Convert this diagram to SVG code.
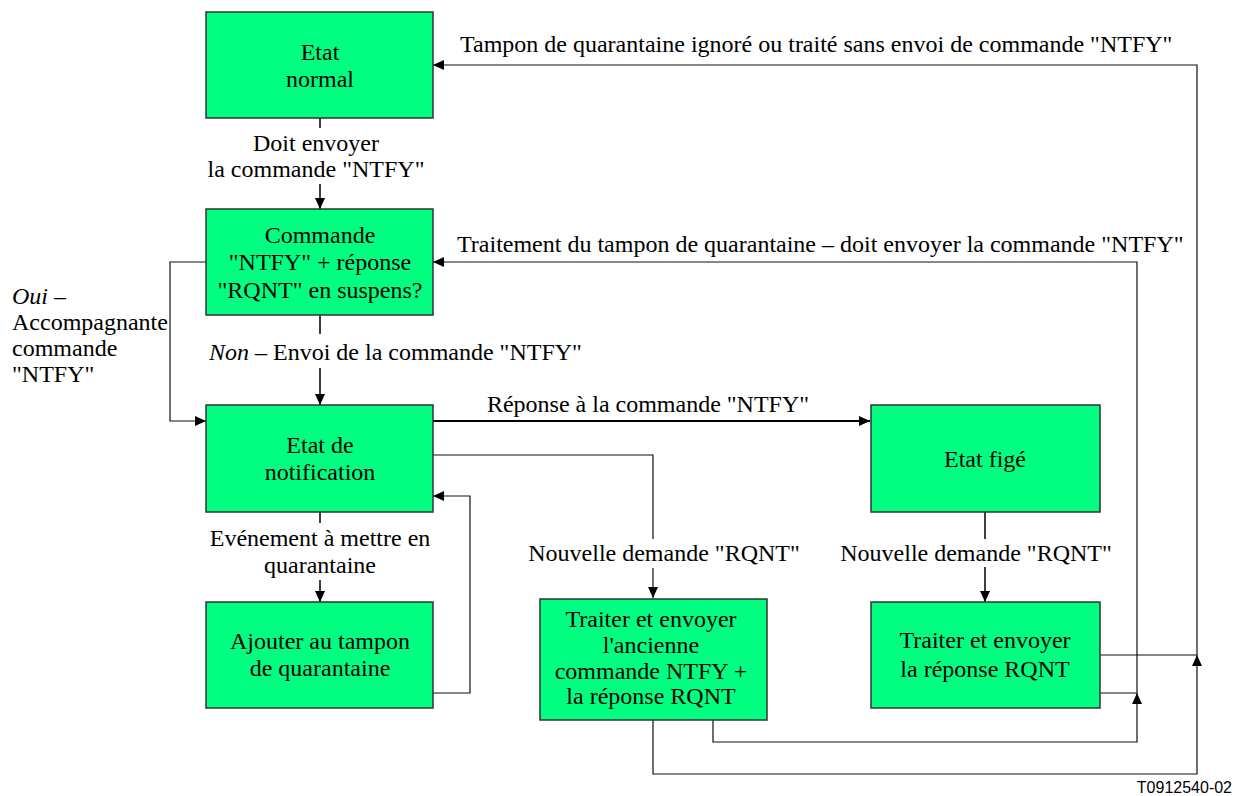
<svg xmlns="http://www.w3.org/2000/svg" width="1247" height="796" viewBox="0 0 1247 796" font-family="Liberation Serif">
<style>
.box{fill:#00FF80;stroke:#333333;stroke-width:1.5}
.t{font-size:24px;fill:#000}
.c{text-anchor:middle}
.ln{fill:none;stroke:#000;stroke-width:1.5}
.thin{fill:none;stroke:#111;stroke-width:1.2}
.it{font-style:italic}
</style>
<defs>
<marker id="arr" markerUnits="userSpaceOnUse" markerWidth="11" markerHeight="10" refX="11" refY="5" orient="auto">
<path d="M0,0 L11,5 L0,10 z" fill="#000"/>
</marker>
</defs>
<rect width="1247" height="796" fill="#fff"/>

<g id="connectors">
<line class="ln" x1="320" y1="118" x2="320" y2="128"/>
<line class="ln" x1="320" y1="184" x2="320" y2="209" marker-end="url(#arr)"/>
<line class="ln" x1="320" y1="315" x2="320" y2="334"/>
<line class="ln" x1="320" y1="368" x2="320" y2="405" marker-end="url(#arr)"/>
<line class="ln" x1="320" y1="512" x2="320" y2="523"/>
<line class="ln" x1="320" y1="580" x2="320" y2="602" marker-end="url(#arr)"/>
<polyline class="thin" points="206,262 170,262 170,421 206,421" marker-end="url(#arr)"/>
<line x1="433" y1="421" x2="870" y2="421" stroke="#000" stroke-width="2.2" marker-end="url(#arr)"/>
<polyline class="thin" points="433,455 653,455 653,539"/>
<line class="thin" x1="653" y1="568" x2="653" y2="598" marker-end="url(#arr)"/>
<line class="ln" x1="985" y1="512" x2="985" y2="539"/>
<line class="ln" x1="985" y1="567" x2="985" y2="602" marker-end="url(#arr)"/>
<polyline class="thin" points="433,693 470,693 470,496 433,496" marker-end="url(#arr)"/>
<polyline class="thin" points="713,720 713,742 1137,742 1137,693" marker-end="url(#arr)"/>
<polyline class="thin" points="1100,693 1137,693 1137,262 433,262" marker-end="url(#arr)"/>
<polyline class="thin" points="653,720 653,774 1197,774 1197,655" marker-end="url(#arr)"/>
<polyline class="thin" points="1100,655 1197,655 1197,65 433,65" marker-end="url(#arr)"/>
</g>

<g id="labels" font-family="Liberation Serif">
<text class="t c" x="316" y="151">Doit envoyer</text>
<text class="t c" x="316" y="177">la commande "NTFY"</text>
<text class="t" x="12" y="304"><tspan class="it">Oui</tspan> –</text>
<text class="t" x="12" y="330">Accompagnante</text>
<text class="t" x="12" y="356">commande</text>
<text class="t" x="12" y="382">"NTFY"</text>
<text class="t" x="209" y="360"><tspan class="it">Non</tspan> – Envoi de la commande "NTFY"</text>
<text class="t c" x="648" y="412">Réponse à la commande "NTFY"</text>
<text class="t c" x="320" y="546">Evénement à mettre en</text>
<text class="t c" x="320" y="573">quarantaine</text>
<text class="t c" x="664" y="561">Nouvelle demande "RQNT"</text>
<text class="t c" x="976" y="561">Nouvelle demande "RQNT"</text>
<text class="t" x="460" y="52">Tampon de quarantaine ignoré ou traité sans envoi de commande "NTFY"</text>
<text class="t" x="457" y="252">Traitement du tampon de quarantaine – doit envoyer la commande "NTFY"</text>
<text x="1232" y="793" text-anchor="end" font-family="Liberation Sans" font-size="16">T0912540-02</text>
</g>

<g id="n-normal" font-family="Liberation Serif">
<rect class="box" x="206" y="12" width="227" height="106"/>
<text class="t c" x="320" y="60">Etat</text>
<text class="t c" x="320" y="87">normal</text>
</g>
<g id="n-commande" font-family="Liberation Serif">
<rect class="box" x="206" y="209" width="227" height="106"/>
<text class="t c" x="320" y="243">Commande</text>
<text class="t c" x="320" y="270">"NTFY" + réponse</text>
<text class="t c" x="320" y="298">"RQNT" en suspens?</text>
</g>
<g id="n-notification" font-family="Liberation Serif">
<rect class="box" x="206" y="405" width="227" height="107"/>
<text class="t c" x="320" y="453">Etat de</text>
<text class="t c" x="320" y="480">notification</text>
</g>
<g id="n-ajouter" font-family="Liberation Serif">
<rect class="box" x="206" y="602" width="227" height="106"/>
<text class="t c" x="320" y="649">Ajouter au tampon</text>
<text class="t c" x="320" y="676">de quarantaine</text>
</g>
<g id="n-ancienne" font-family="Liberation Serif">
<rect class="box" x="540" y="599" width="227" height="121"/>
<text class="t c" x="651" y="627">Traiter et envoyer</text>
<text class="t c" x="651" y="653">l'ancienne</text>
<text class="t c" x="651" y="679">commande NTFY +</text>
<text class="t c" x="651" y="704">la réponse RQNT</text>
</g>
<g id="n-fige" font-family="Liberation Serif">
<rect class="box" x="871" y="405" width="229" height="107"/>
<text class="t c" x="985" y="467">Etat figé</text>
</g>
<g id="n-reponse" font-family="Liberation Serif">
<rect class="box" x="871" y="602" width="229" height="106"/>
<text class="t c" x="985" y="648">Traiter et envoyer</text>
<text class="t c" x="985" y="677">la réponse RQNT</text>
</g>
</svg>
